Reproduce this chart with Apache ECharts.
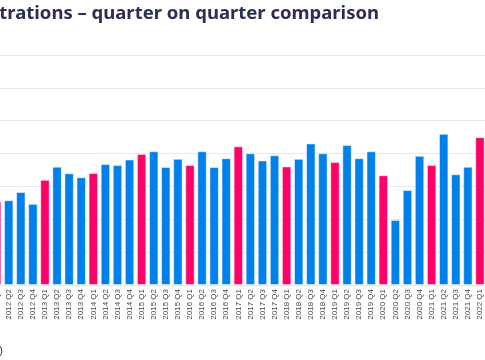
<!DOCTYPE html>
<html>
<head>
<meta charset="utf-8">
<script src="https://cdn.jsdelivr.net/npm/echarts@6/dist/echarts.min.js"></script>
<style>
html,body{margin:0;padding:0;width:485px;height:360px;overflow:hidden;background:#fff;}
#c{position:absolute;left:-120px;top:0;width:620px;height:360px;}
</style>
</head>
<body>
<div id="c"></div>
<script>
const OFF = 120;
const title = "New car registrations \u2013 quarter on quarter comparison";
const note = "Source: SMMT (units)";
const categories = [
  "2012 Q1","2012 Q2","2012 Q3","2012 Q4",
  "2013 Q1","2013 Q2","2013 Q3","2013 Q4",
  "2014 Q1","2014 Q2","2014 Q3","2014 Q4",
  "2015 Q1","2015 Q2","2015 Q3","2015 Q4",
  "2016 Q1","2016 Q2","2016 Q3","2016 Q4",
  "2017 Q1","2017 Q2","2017 Q3","2017 Q4",
  "2018 Q1","2018 Q2","2018 Q3","2018 Q4",
  "2019 Q1","2019 Q2","2019 Q3","2019 Q4",
  "2020 Q1","2020 Q2","2020 Q3","2020 Q4",
  "2021 Q1","2021 Q2","2021 Q3","2021 Q4",
  "2022 Q1"
];
const values = [
  255, 258, 283, 247,
  320, 360, 340, 328,
  341, 368, 365, 382,
  399, 407, 359, 384,
  365, 407, 359, 386,
  422, 401, 379, 395,
  361, 384, 431, 401,
  374, 426, 386, 407,
  334, 198, 289, 393,
  365, 460, 337, 360,
  450
];
const q1Color = "#ff0066";
const otherColor = "#0080ea";

const chart = echarts.init(document.getElementById('c'), null, {renderer: 'canvas'});
chart.setOption({
  animation: false,
  backgroundColor: '#ffffff',
  grid: {left: 110.6, right: 14, top: 55, bottom: 75, containLabel: false},
  xAxis: {
    type: 'category',
    data: categories,
    axisLine: {show: false},
    axisTick: {show: false},
    axisLabel: {
      rotate: 90, interval: 0, margin: 4,
      fontSize: 8, color: '#4a4a4a', fontFamily: 'Liberation Sans, Arial, sans-serif'
    }
  },
  yAxis: {
    type: 'value', min: 0, max: 700, interval: 100,
    axisLabel: {show: false},
    axisLine: {show: false},
    axisTick: {show: false},
    splitLine: {lineStyle: {color: '#e8e8e8', width: 1}}
  },
  series: [{
    type: 'bar',
    barCategoryGap: '22%',
    data: values.map((v, i) => ({
      value: v,
      itemStyle: {color: categories[i].endsWith('Q1') ? q1Color : otherColor}
    })),
    itemStyle: {borderColor: 'rgba(255,255,255,0.5)', borderWidth: 1}
  }],
  graphic: [
    {
      type: 'text', x: OFF + 379, y: 14,
      style: {
        text: title, textAlign: 'right', textVerticalAlign: 'middle',
        font: 'bold 18.5px "Noto Sans", sans-serif', fill: '#2b2f55'
      }
    },
    {
      type: 'text', x: OFF + 3, y: 351,
      style: {
        text: note, textAlign: 'right', textVerticalAlign: 'middle',
        font: '11px "Liberation Sans", sans-serif', fill: '#333333'
      }
    }
  ]
});
</script>
</body>
</html>
